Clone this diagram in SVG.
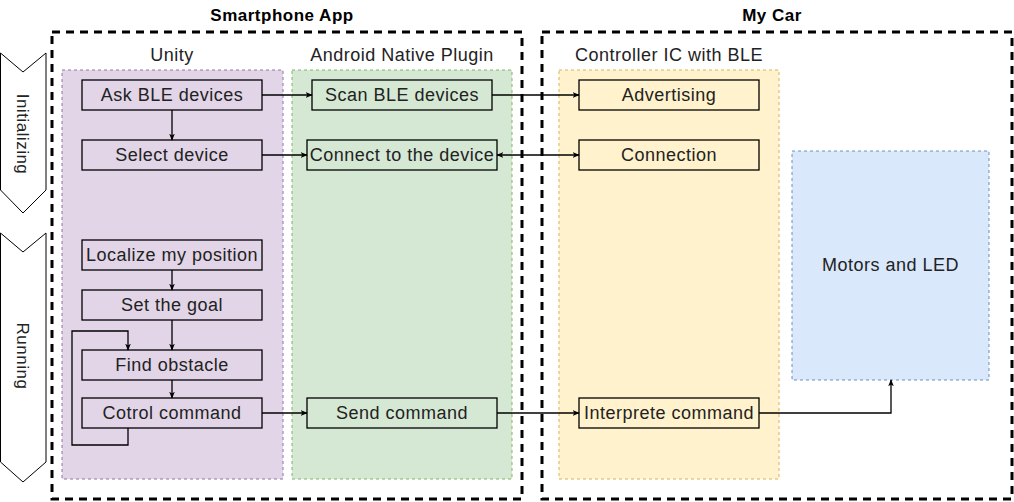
<svg xmlns="http://www.w3.org/2000/svg" width="1014" height="502" viewBox="0 0 1014 502">
<defs>
<marker id="arr" viewBox="0 0 10 10" refX="9" refY="5" markerWidth="7" markerHeight="7" markerUnits="userSpaceOnUse" orient="auto-start-reverse">
<path d="M0,1 L10,5 L0,9 L2.5,5 Z" fill="#000"/>
</marker>
<style>
text{font-family:"Liberation Sans",Arial,sans-serif;fill:#222;}
.t{font-size:18px;text-anchor:middle;letter-spacing:0.5px;}
.title{font-size:17px;font-weight:bold;text-anchor:middle;fill:#000;letter-spacing:0.5px;}
.big{fill:none;stroke:#000;stroke-width:3;stroke-dasharray:8 6;}
.lane{stroke-width:1;stroke-dasharray:3 3;}
.node rect{stroke:#000;stroke-width:1.3;}
.pu{fill:#e1d5e7;}
.gr{fill:#d5e8d4;}
.ye{fill:#fff2cc;}
.step{fill:#fff;stroke:#000;stroke-width:1;}
.c{fill:none;stroke:#000;stroke-width:1.3;}
</style>
</defs>
<rect width="1014" height="502" fill="#fff"/>

<g id="phase-initializing">
<path class="step" d="M0.5,53 L23,72 L46,53 L46,190 L23,213 L0.5,190 Z"/>
<text class="t" transform="translate(17,134) rotate(90)" style="font-size:17px">Initializing</text>
</g>
<g id="phase-running">
<path class="step" d="M0.5,233 L23,252 L46,233 L46,462 L23,482 L0.5,462 Z"/>
<text class="t" transform="translate(17,356) rotate(90)" style="font-size:17px">Running</text>
</g>

<g id="smartphone-app">
<rect class="big" x="52" y="32" width="470" height="467"/>
<text class="title" x="282" y="21">Smartphone App</text>
</g>
<g id="my-car">
<rect class="big" x="542" y="32" width="470" height="467"/>
<text class="title" x="772" y="21">My Car</text>
</g>

<g id="lane-unity">
<rect class="lane" x="62" y="70" width="221" height="409" fill="#e1d5e7" stroke="#9673a6"/>
<text class="t" x="172" y="61">Unity</text>
</g>
<g id="lane-android">
<rect class="lane" x="292" y="70" width="220" height="409" fill="#d5e8d4" stroke="#82b366"/>
<text class="t" x="402" y="61">Android Native Plugin</text>
</g>
<g id="lane-controller">
<rect class="lane" x="559" y="70" width="220" height="409" fill="#fff2cc" stroke="#d6b656"/>
<text class="t" x="669" y="61">Controller IC with BLE</text>
</g>

<g id="motors-led">
<rect class="lane" x="792" y="151" width="197" height="229" fill="#dae8fc" stroke="#6c8ebf"/>
<text class="t" x="890.5" y="271">Motors and LED</text>
</g>

<g id="ask-ble" class="node"><rect class="pu" x="82" y="80" width="180" height="30"/><text class="t" x="172" y="101">Ask BLE devices</text></g>
<g id="select-device" class="node"><rect class="pu" x="82" y="140" width="180" height="30"/><text class="t" x="172" y="161">Select device</text></g>
<g id="localize" class="node"><rect class="pu" x="82" y="240" width="180" height="30"/><text class="t" x="172" y="261">Localize my position</text></g>
<g id="set-goal" class="node"><rect class="pu" x="82" y="290" width="180" height="30"/><text class="t" x="172" y="311">Set the goal</text></g>
<g id="find-obstacle" class="node"><rect class="pu" x="82" y="350" width="180" height="30"/><text class="t" x="172" y="371">Find obstacle</text></g>
<g id="control-command" class="node"><rect class="pu" x="82" y="398" width="180" height="30"/><text class="t" x="172" y="419">Cotrol command</text></g>

<g id="scan-ble" class="node"><rect class="gr" x="312" y="80" width="180" height="30"/><text class="t" x="402" y="101">Scan BLE devices</text></g>
<g id="connect-device" class="node"><rect class="gr" x="307" y="140" width="190" height="30"/><text class="t" x="402" y="161">Connect to the device</text></g>
<g id="send-command" class="node"><rect class="gr" x="307" y="398" width="190" height="30"/><text class="t" x="402" y="419">Send command</text></g>

<g id="advertising" class="node"><rect class="ye" x="579" y="80" width="180" height="30"/><text class="t" x="669" y="101">Advertising</text></g>
<g id="connection" class="node"><rect class="ye" x="579" y="140" width="180" height="30"/><text class="t" x="669" y="161">Connection</text></g>
<g id="interprete-command" class="node"><rect class="ye" x="579" y="398" width="180" height="30"/><text class="t" x="669" y="419">Interprete command</text></g>

<g id="connectors">
<path class="c" d="M172,110 V140" marker-end="url(#arr)"/>
<path class="c" d="M172,270 V290" marker-end="url(#arr)"/>
<path class="c" d="M172,320 V350" marker-end="url(#arr)"/>
<path class="c" d="M172,380 V398" marker-end="url(#arr)"/>
<path class="c" d="M128,428 V445 H72 V331 H128 V350" marker-end="url(#arr)"/>
<path class="c" d="M262,95 H312" marker-end="url(#arr)"/>
<path class="c" d="M492,95 H579" marker-end="url(#arr)"/>
<path class="c" d="M262,155 H307" marker-end="url(#arr)"/>
<path class="c" d="M497,155 H579" marker-start="url(#arr)" marker-end="url(#arr)"/>
<path class="c" d="M262,413 H307" marker-end="url(#arr)"/>
<path class="c" d="M497,413 H579" marker-end="url(#arr)"/>
<path class="c" d="M759,413 H891 V380" marker-end="url(#arr)"/>
</g>
</svg>
